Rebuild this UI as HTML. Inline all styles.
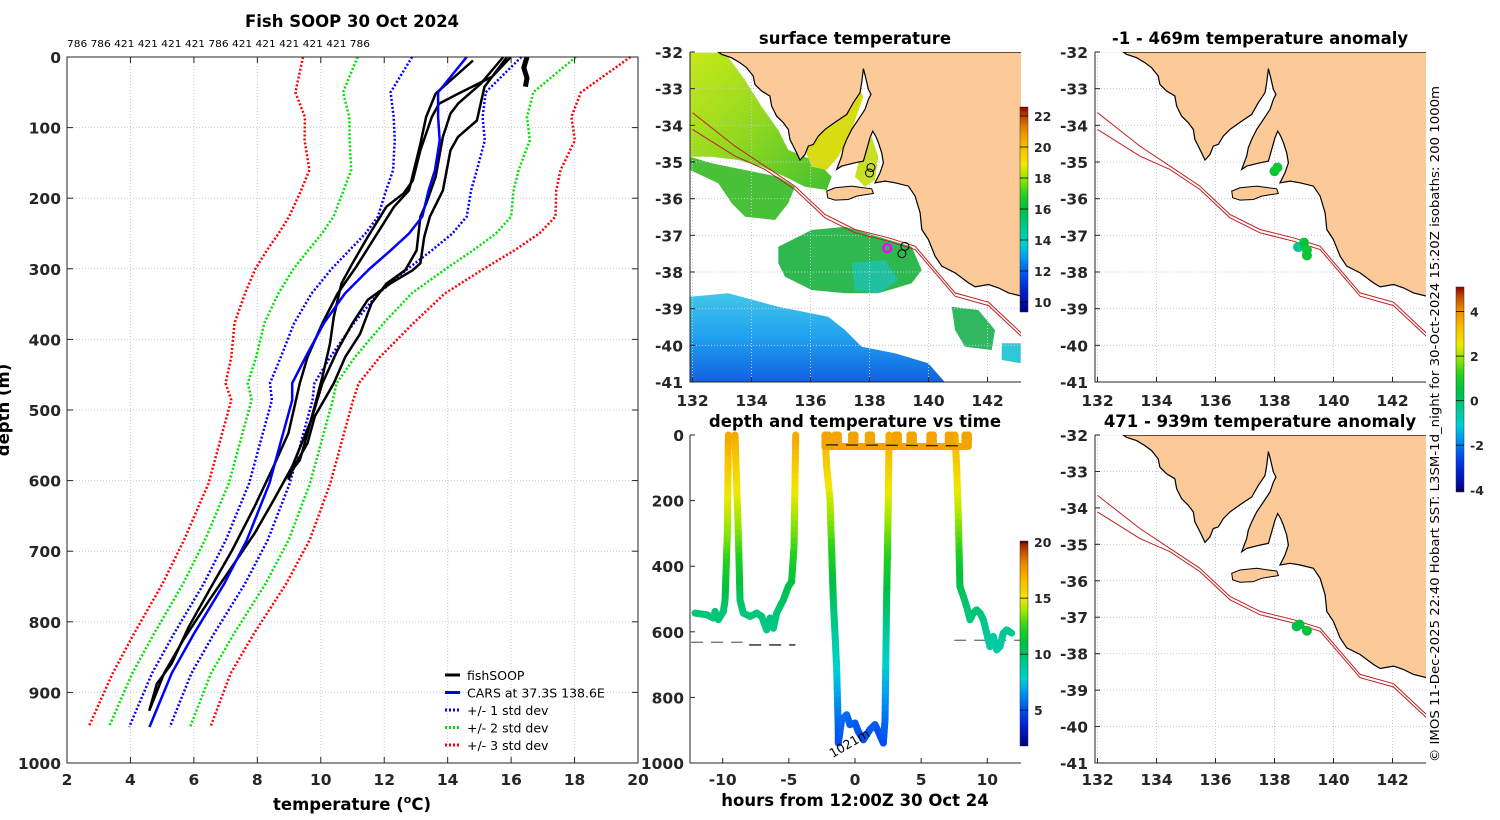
<!DOCTYPE html>
<html><head><meta charset="utf-8"><title>Fish SOOP 30 Oct 2024</title>
<style>
html,body{margin:0;padding:0;background:#fff;}
svg{display:block;font-family:"DejaVu Sans","Liberation Sans",sans-serif;}
.tk{font-weight:bold;font-size:15.5px;fill:#262626;}
.ttl{font-weight:bold;font-size:16.5px;fill:#000;}
</style></head>
<body>
<svg id="fig" width="1500" height="820" viewBox="0 0 1500 820" xmlns="http://www.w3.org/2000/svg">
<defs>
<linearGradient id="cbar" x1="0" y1="1" x2="0" y2="0">
<stop offset="0" stop-color="#00007f"/><stop offset="0.1" stop-color="#0020d0"/><stop offset="0.18" stop-color="#0050f0"/><stop offset="0.27" stop-color="#00a0f0"/><stop offset="0.33" stop-color="#00d0d0"/><stop offset="0.41" stop-color="#00c890"/><stop offset="0.5" stop-color="#00c040"/><stop offset="0.57" stop-color="#20d020"/><stop offset="0.66" stop-color="#a0e800"/><stop offset="0.72" stop-color="#f0e800"/><stop offset="0.8" stop-color="#f8c000"/><stop offset="0.88" stop-color="#f09000"/><stop offset="0.95" stop-color="#c05000"/><stop offset="1" stop-color="#900000"/>
</linearGradient>
<linearGradient id="nwg" x1="0" y1="0" x2="1" y2="1">
<stop offset="0" stop-color="#c8e818"/><stop offset="0.5" stop-color="#90d820"/><stop offset="1" stop-color="#40c030"/>
</linearGradient>
<linearGradient id="blg" x1="0" y1="0" x2="0" y2="1">
<stop offset="0" stop-color="#40c8e8"/><stop offset="0.5" stop-color="#20a0f0"/><stop offset="1" stop-color="#1060e0"/>
</linearGradient>
</defs>
<g id="root"></g>
</svg>
<script>
// ===== Left chart data: CARS climatology =====
const carsDepth = [0,50,85,118,160,189,226,250,274,300,335,377,425,462,486,604,684,746,817,873,949];
const carsMean  = [14.6,13.7,13.7,13.75,13.6,13.4,13.2,12.78,12.2,11.54,10.76,10.1,9.52,9.1,9.1,8.38,7.67,6.96,6.0,5.3,4.6];
const carsStd   = [1.72,1.5,1.4,1.42,1.32,1.34,1.4,1.37,1.3,1.2,1.05,0.94,0.78,0.7,0.64,0.64,0.66,0.65,0.63,0.62,0.64];
// fishSOOP profiles
const p1T = [14.8,13.62,13.32,13.14,12.96,12.78,12.31,11.71,11.12,10.53,10.05,9.58,9.34,8.98,8.51,7.91,7.2,6.49,5.84,5.3,4.83,4.59];
const p1D = [5,52,85,123,156,189,212,255,297,335,377,425,462,533,580,637,699,755,807,859,888,926];
const p2T = [15.87,15.16,14.92,14.33,14.09,13.85,13.44,13.26,13.14,12.9,12.19,11.48,11.0,10.53,10.05,9.7,9.1,8.51,7.91,7.2,6.49,5.66,5.06,4.59];
const p2D = [0,42,90,113,132,189,226,255,292,302,321,344,377,415,462,514,580,628,675,722,769,826,873,926];
const p3T = [15.75,15.04,14.33,14.09,13.85,13.62,13.32,13.14,13.02,12.66,12.07,11.6,11.24,10.77,10.41,9.81,9.58,9.16,8.98];
const p3D = [0,38,66,80,113,170,208,226,274,302,321,349,392,425,462,509,547,580,599];
const p4T = [15.99,15.4,14.33,13.73,13.5,13.14,12.9,12.61,12.07,11.48,11.0,10.65,10.41,10.29,10.05,9.58,9.34,8.86];
const p4D = [0,28,52,66,85,132,175,193,212,255,292,321,368,406,453,533,571,599];
const p5T = [16.5,16.4,16.5,16.45];
const p5D = [0,15,30,42];
const xTicks = [2,4,6,8,10,12,14,16,18,20];
const yTicks = [0,100,200,300,400,500,600,700,800,900,1000];
const bottomDepthLabels = ["786","786","421","421","421","421","786","421","421","421","421","421","786"];

// ===== Time plot data =====
const segAH = [-12.09,-11.21,-10.7,-10.58,-10.33,-9.95,-9.82,-9.65,-9.57];
const segAD = [543,548,558,538,563,538,503,299,0];
const segAT = [9.8,9.8,9.7,9.8,9.7,9.8,10.3,13.5,17.2];
const segBH = [-9.07,-8.82,-8.69,-8.44,-7.93,-7.43,-7.05,-6.68,-6.42,-6.17,-5.92,-5.42,-5.04,-4.79,-4.61,-4.48];
const segBD = [0,299,503,543,553,543,553,594,558,589,543,503,462,447,340,0];
const segBT = [17.2,13.5,10.3,9.8,9.8,9.8,9.7,9.4,9.7,9.4,9.8,10.2,10.7,10.9,12.5,17.2];
const segCH = [-2.27,-2.14,-1.89,-1.64,-1.39,-1.26,-1.26,-1.01,-0.63,-0.38,0,0.25,0.63,1.13,1.51,1.76,2.14,2.27,2.39,2.52,2.57];
const segCD = [0,96,198,503,706,909,939,868,853,883,878,904,929,898,883,904,939,868,503,198,0];
const segCT = [17.2,16,14.5,10.3,8,5.3,5.0,5.6,5.8,5.4,5.5,5.2,5.0,5.3,5.4,5.2,5.0,5.6,10.3,14.5,17.2];
const segEH = [7.56,7.68,7.81,7.93,8.19,8.44,8.69,8.94,9.19,9.45,9.7,9.95,10.2,10.45,10.71,10.96,11.21,11.46,11.84];
const segED = [0,96,249,462,492,523,563,543,533,543,563,604,645,614,655,645,604,594,604];
const segET = [17.2,16,14,10.7,10.3,10,9.6,9.8,9.9,9.8,9.5,9.2,8.8,9.0,8.7,8.8,9.2,9.3,9.2];
const toothHours = [-2.14,-1.39,-0.13,1.13,3.15,4.28,5.79,7.18,8.44];
const surfaceDepth = 35;
const surfaceTemp = 17.3;
const bottomH1 = [-12.4,-8.5]; const bottomD1 = 632;
const bottomH2 = [-8.0,-4.5]; const bottomD2 = 640;
const bottomH3 = [-2.2,8.4]; const bottomD3 = 30;
const bottomH4 = [7.5,12.5]; const bottomD4 = 626;
const hourTicks = [-10,-5,0,5,10];
const tDepthTicks = [0,200,400,600,800,1000];

// ===== Maps data =====
const latTicks = [-32,-33,-34,-35,-36,-37,-38,-39,-40,-41];
const lonTicks = [132,134,136,138,140,142];
const anomLonTop = [138.0,138.1,138.8,139.0,139.1,139.1];
const anomLatTop = [-35.25,-35.15,-37.32,-37.2,-37.4,-37.55];
const anomValTop = [0.7,0.8,-0.3,0.6,0.8,0.7];
const anomLonBot = [138.75,138.85,139.1];
const anomLatBot = [-37.25,-37.2,-37.37];
const anomValBot = [0.3,0.5,0.6];
const obsLon = [138.05,138.0,139.2,139.1];
const obsLat = [-35.15,-35.3,-37.3,-37.5];
const shipLon = 138.6, shipLat = -37.35;

const NS="http://www.w3.org/2000/svg";
const root=document.getElementById('root');
function mk(tag,attrs,parent){const e=document.createElementNS(NS,tag);for(const k in attrs)e.setAttribute(k,attrs[k]);(parent||root).appendChild(e);return e;}
function txt(s,attrs,parent){const e=mk('text',attrs,parent);e.textContent=s;return e;}

const cstops=[[0,[0,0,127]],[0.1,[0,32,208]],[0.18,[0,80,240]],[0.27,[0,160,240]],[0.33,[0,208,208]],[0.41,[0,200,144]],[0.5,[0,192,64]],[0.57,[32,208,32]],[0.66,[160,232,0]],[0.72,[240,232,0]],[0.8,[248,192,0]],[0.88,[240,144,0]],[0.95,[192,80,0]],[1,[144,0,0]]];
function cmap(t){t=Math.max(0,Math.min(1,t));for(let i=1;i<cstops.length;i++){if(t<=cstops[i][0]){const a=cstops[i-1],b=cstops[i];const f=(t-a[0])/(b[0]-a[0]);const c=a[1].map((v,j)=>Math.round(v+(b[1][j]-v)*f));return `rgb(${c[0]},${c[1]},${c[2]})`;}}return 'rgb(144,0,0)';}

// ================= LEFT CHART =================
const L={x0:67,x1:638,y0:57,y1:763};
const xT=t=>L.x0+(t-2)/18*(L.x1-L.x0);
const yD=d=>L.y0+d/1000*(L.y1-L.y0);
let el;
xTicks.forEach(t=>{el=mk('line',{x1:xT(t),x2:xT(t),y1:L.y0,y2:L.y1,stroke:'#c4c8e0','stroke-dasharray':'1 2','stroke-width':1});

});
yTicks.forEach(d=>{el=mk('line',{x1:L.x0,x2:L.x1,y1:yD(d),y2:yD(d),stroke:'#c4c8e0','stroke-dasharray':'1 2','stroke-width':1});

});
function pathFrom(xs,ys){return xs.map((x,i)=>(i?'L':'M')+x.toFixed(1)+' '+ys[i].toFixed(1)).join(' ');}
const stdCols=['#0000ff','#00e000','#ff0000'];
[1,2,3].forEach(k=>{[-1,1].forEach(sg=>{
 el=mk('path',{d:pathFrom(carsMean.map((m,i)=>xT(m+sg*k*carsStd[i])),carsDepth.map(yD)),fill:'none',stroke:stdCols[k-1],'stroke-width':2.5,'stroke-dasharray':'2 2'});
 
 
});});
[[p1T,p1D],[p2T,p2D],[p3T,p3D],[p4T,p4D]].forEach(p=>{
 el=mk('path',{d:pathFrom(p[0].map(xT),p[1].map(yD)),fill:'none',stroke:'#000','stroke-width':2.5,'stroke-linejoin':'round'});
 
 
});
el=mk('path',{d:pathFrom(p5T.map(xT),p5D.map(yD)),fill:'none',stroke:'#000','stroke-width':5});


el=mk('path',{d:pathFrom(carsMean.map(xT),carsDepth.map(yD)),fill:'none',stroke:'#0000ff','stroke-width':2.5});


el=mk('rect',{x:L.x0,y:L.y0,width:L.x1-L.x0,height:L.y1-L.y0,fill:'none',stroke:'#262626','stroke-width':1});


xTicks.forEach(t=>{mk('line',{x1:xT(t),x2:xT(t),y1:L.y1,y2:L.y1-6,stroke:'#262626'});mk('line',{x1:xT(t),x2:xT(t),y1:L.y0,y2:L.y0+6,stroke:'#262626'});
 el=txt(String(t),{x:xT(t),y:785,'text-anchor':'middle',class:'tk'});
 
 });
yTicks.forEach(d=>{mk('line',{x1:L.x0,x2:L.x0+6,y1:yD(d),y2:yD(d),stroke:'#262626'});mk('line',{x1:L.x1,x2:L.x1-6,y1:yD(d),y2:yD(d),stroke:'#262626'});
 el=txt(String(d),{x:61,y:yD(d)+6,'text-anchor':'end',class:'tk'});
 
 });
el=txt(bottomDepthLabels.join(' '),{x:67,y:47,'font-size':'10',fill:'#000',textLength:303,lengthAdjust:'spacingAndGlyphs'});


const legItems=[['fishSOOP','#000',null],['CARS at 37.3S 138.6E','#0000ff',null],['+/- 1 std dev','#0000ff','2 2'],['+/- 2 std dev','#00e000','2 2'],['+/- 3 std dev','#ff0000','2 2']];
legItems.forEach((it,i)=>{const y=675+i*17.5;
 const a={x1:445,x2:460,y1:y,y2:y,stroke:it[1],'stroke-width':3};if(it[2])a['stroke-dasharray']=it[2];
 el=mk('line',a);
 
 
 el=txt(it[0],{x:467,y:y+5,'font-size':'12.5',fill:'#000'});
 
 });
</script>
<script>
// ================= TIME PLOT =================
const T={x0:690,x1:1021,y0:435,y1:763};
const xH=h=>855+h*13.23;
const yTD=d=>T.y0+d/1000*(T.y1-T.y0);
const tmin=1.8,tmax=20.1;
function tc(v){return cmap((v-tmin)/(tmax-tmin));}
function drawSeg(H,D,Tm){
 for(let i=0;i<H.length-1;i++){const n=Math.max(1,Math.ceil(Math.abs(yTD(D[i+1])-yTD(D[i]))/6));
  for(let j=0;j<n;j++){const f0=j/n,f1=(j+1)/n;
   const h0=H[i]+(H[i+1]-H[i])*f0,h1=H[i]+(H[i+1]-H[i])*f1,d0=D[i]+(D[i+1]-D[i])*f0,d1=D[i]+(D[i+1]-D[i])*f1,t=Tm[i]+(Tm[i+1]-Tm[i])*(f0+f1)/2;
   el=mk('line',{x1:xH(h0),x2:xH(h1),y1:yTD(d0),y2:yTD(d1),stroke:tc(t),'stroke-width':7,'stroke-linecap':'round'});
   
   }}}
[[bottomH1,bottomD1,'#777'],[bottomH2,bottomD2,'#222'],[bottomH3,bottomD3,'#222'],[bottomH4,bottomD4,'#777']].forEach(b=>{
 el=mk('line',{x1:xH(b[0][0]),x2:xH(b[0][1]),y1:yTD(b[1]),y2:yTD(b[1]),stroke:b[2],'stroke-width':1.3,'stroke-dasharray':'12 8'});
 
 });
drawSeg(segAH,segAD,segAT);drawSeg(segBH,segBD,segBT);drawSeg(segCH,segCD,segCT);drawSeg(segEH,segED,segET);
const sH=[],sD=[],sT=[];
toothHours.forEach(h=>{sH.push(h-0.13,h-0.13,h+0.13,h+0.13);sD.push(surfaceDepth,0,0,surfaceDepth);sT.push(surfaceTemp,surfaceTemp,surfaceTemp,surfaceTemp);});
drawSeg(sH,sD,sT);
el=mk('line',{x1:xH(bottomH3[0]),x2:xH(bottomH3[1]),y1:yTD(bottomD3),y2:yTD(bottomD3)+1,stroke:'#222','stroke-width':1.3,'stroke-dasharray':'12 8'});


el=txt('1021m',{x:0,y:0,'font-size':'12.5',fill:'#000',transform:`translate(${xH(-1.7)},${yTD(985)}) rotate(-30)`});


el=mk('path',{d:`M${T.x0} ${T.y0} V${T.y1} H${T.x1}`,fill:'none',stroke:'#262626'});


hourTicks.forEach(h=>{mk('line',{x1:xH(h),x2:xH(h),y1:T.y1,y2:T.y1-5,stroke:'#262626'});
 el=txt(String(h),{x:xH(h),y:785,'text-anchor':'middle',class:'tk'});
 
 });
tDepthTicks.forEach(d=>{mk('line',{x1:T.x0,x2:T.x0+5,y1:yTD(d),y2:yTD(d),stroke:'#262626'});
 el=txt(String(d),{x:684,y:yTD(d)+6,'text-anchor':'end',class:'tk'});
 
 });
el=mk('rect',{x:1020,y:541,width:8,height:205,fill:'url(#cbar)',stroke:'#333','stroke-width':0.5});


[20,15,10,5].forEach(v=>{const y=746-(v-tmin)/(tmax-tmin)*205;mk('line',{x1:1020,x2:1028,y1:y,y2:y,stroke:'#000','stroke-width':0.8});
 el=txt(String(v),{x:1034,y:y+5,'font-size':'12.5','font-weight':'bold',fill:'#262626'});
 
 });

// ================= MAPS =================
const coastZ=[[190,68],[200,75],[230,85],[255,100],[275,115],[295,140],[300,165],[320,185],[345,200],[350,230],[365,260],[385,280],[400,300],[405,330],[415,350],[425,370],[435,392],[450,375],[460,350],[475,345],[490,320],[510,300],[545,275],[575,255],[595,220],[615,190],[620,160],[625,118],[632,145],[640,180],[648,195],[640,210],[630,240],[610,270],[590,300],[575,330],[565,355],[560,380],[545,420],[560,410],[600,400],[625,395],[635,360],[645,325],[653,305],[662,320],[670,340],[680,370],[685,400],[675,430],[660,460],[690,455],[720,460],[760,470],[780,500],[795,550],[800,600],[820,630],[840,680],[860,710],[900,730],[940,760],[960,772],[1000,765],[1030,775],[1060,790],[1100,800],[1100,68]];
const kiZ=[[515,485],[540,475],[590,470],[625,475],[650,478],[655,492],[630,496],[605,500],[580,510],[540,512],[518,505]];
const iso1Z=[[113,250],[240,350],[330,410],[420,470],[510,555],[600,600],[700,625],[780,650],[900,790],[1000,818],[1100,912]];
const iso2Z=[[113,300],[240,380],[330,420],[420,480],[510,565],[600,610],[700,635],[780,660],[900,800],[1000,828],[1100,922]];
const zLL=p=>[132+(p[0]-113)/88.4,-32-(p[1]-68)/109.9];
function makeMap(x0,y0,y1,name){
 const x1=x0+331;
 const X=lon=>x0+2.5+(lon-132)*29.5, Y=lat=>y0+(-32-lat)*(y1-y0)/9;
 const g=mk('g',{});
 
 
 const clip=mk('clipPath',{id:'clip'+name},g);mk('rect',{x:x0,y:y0,width:331,height:y1-y0},clip);
 const inner=mk('g',{'clip-path':`url(#clip${name})`},g);
 return {g,inner,X,Y,x0,x1,y0,y1};
}
function poly(m,pts,attrs,nm){const d='M'+pts.map(p=>{const q=zLL(p);return m.X(q[0]).toFixed(1)+' '+m.Y(q[1]).toFixed(1);}).join(' L')+(attrs.fill!=='none'?' Z':'');
 el=mk('path',Object.assign({d},attrs),m.inner);
 
 return el;}
function finishMap(m,lonLabelY){
 lonTicks.forEach(l=>{el=mk('line',{x1:m.X(l),x2:m.X(l),y1:m.y0,y2:m.y1,stroke:'#c4c8e0','stroke-dasharray':'1 2'},m.inner);
  
  });
 latTicks.forEach(l=>{el=mk('line',{x1:m.x0,x2:m.x1,y1:m.Y(l),y2:m.Y(l),stroke:'#c4c8e0','stroke-dasharray':'1 2'},m.inner);
  
  });
 poly(m,coastZ,{fill:'#fbca98',stroke:'#000','stroke-width':1.2},'land');
 poly(m,kiZ,{fill:'#fbca98',stroke:'#000','stroke-width':1},'kangaroo-island');
 poly(m,iso1Z,{fill:'none',stroke:'#c02020','stroke-width':1},'isobath-200m');
 poly(m,iso2Z,{fill:'none',stroke:'#c02020','stroke-width':1},'isobath-1000m');
 el=mk('path',{d:`M${m.x0} ${m.y0} V${m.y1} H${m.x1}`,fill:'none',stroke:'#262626'},m.g);
 
 
 latTicks.forEach(l=>{mk('line',{x1:m.x0,x2:m.x0+5,y1:m.Y(l),y2:m.Y(l),stroke:'#262626'},m.g);
  el=txt(String(l),{x:m.x0-7,y:m.Y(l)+6,'text-anchor':'end',class:'tk'},m.g);
  
  });
 lonTicks.forEach(l=>{mk('line',{x1:m.X(l),x2:m.X(l),y1:m.y1,y2:m.y1-5,stroke:'#262626'},m.g);
  el=txt(String(l),{x:m.X(l),y:lonLabelY,'text-anchor':'middle',class:'tk'},m.g);
  
  });
}
const sst=makeMap(690,52,382,'sst-map');
const sz=pts=>pts.map(p=>[645+p[0]/3,30+p[1]/3]);
function sstPoly(pts,fill,nm){el=mk('path',{d:'M'+sz(pts).map(p=>p[0].toFixed(1)+' '+p[1].toFixed(1)).join(' L')+' Z',fill},sst.inner);
 
 }
sstPoly([[135,68],[240,68],[300,150],[350,230],[400,300],[430,360],[480,380],[520,400],[560,440],[545,480],[480,470],[420,440],[350,410],[280,390],[200,380],[135,380]],'url(#nwg)','sst-nw-warm');
sstPoly([[135,380],[200,400],[300,420],[400,440],[450,470],[430,520],[390,570],[300,560],[260,520],[220,460],[135,420]],'#48c038','sst-shelf-green');
sstPoly([[480,360],[540,290],[600,230],[640,170],[655,200],[620,300],[580,380],[545,420],[500,410]],'#d8dc10','sst-spencer-gulf');
sstPoly([[640,400],[680,320],[700,380],[690,450],[660,470],[630,440]],'#c8e020','sst-gulf-st-vincent');
sstPoly([[400,650],[500,600],[600,590],[700,620],[800,650],[830,720],[800,760],[700,790],[600,790],[500,780],[420,740],[400,700]],'#30b850','sst-central-green');
sstPoly([[620,700],[720,690],[760,750],[700,790],[630,780]],'#20c0a0','sst-central-teal');
sstPoly([[920,830],[1000,840],[1050,900],[1040,960],[960,950],[930,900]],'#30b860','sst-se-green');
sstPoly([[135,800],[250,790],[400,830],[550,860],[600,900],[650,950],[750,970],[850,1000],[900,1057],[135,1057]],'url(#blg)','sst-south-cool');
sstPoly([[1070,940],[1127,940],[1127,1000],[1070,990]],'#30c8d8','sst-east-cool');
finishMap(sst,406);
obsLon.forEach((l,i)=>{el=mk('circle',{cx:sst.X(l),cy:sst.Y(obsLat[i]),r:4,fill:'none',stroke:'#000','stroke-width':1},sst.g);
 
 });
el=mk('circle',{cx:sst.X(shipLon),cy:sst.Y(shipLat),r:4,fill:'none',stroke:'#ff00ff','stroke-width':2.5},sst.g);


el=mk('rect',{x:1020,y:107,width:8,height:205,fill:'url(#cbar)',stroke:'#333','stroke-width':0.5});


[22,20,18,16,14,12,10].forEach(v=>{const y=302-(v-10)*15.5;mk('line',{x1:1020,x2:1028,y1:y,y2:y,stroke:'#000','stroke-width':0.8});
 el=txt(String(v),{x:1034,y:y+5,'font-size':'12.5','font-weight':'bold',fill:'#262626'});
 
 });
const amin=-4.1,amax=5.1;
const ac=v=>cmap((v-amin)/(amax-amin));
const m1=makeMap(1095,52,382,'anomaly-map-shallow');
finishMap(m1,406);
anomLonTop.forEach((l,i)=>{el=mk('circle',{cx:m1.X(l),cy:m1.Y(anomLatTop[i]),r:5,fill:ac(anomValTop[i])},m1.g);
 
 });
const m2=makeMap(1095,435,763,'anomaly-map-deep');
finishMap(m2,785);
anomLonBot.forEach((l,i)=>{el=mk('circle',{cx:m2.X(l),cy:m2.Y(anomLatBot[i]),r:5,fill:ac(anomValBot[i])},m2.g);
 
 });
el=mk('rect',{x:1456,y:287,width:8,height:205,fill:'url(#cbar)',stroke:'#333','stroke-width':0.5});


[4,2,0,-2,-4].forEach(v=>{const y=492-(v-amin)/(amax-amin)*205;mk('line',{x1:1456,x2:1464,y1:y,y2:y,stroke:'#000','stroke-width':0.8});
 el=txt(String(v),{x:1470,y:y+5,'font-size':'12.5','font-weight':'bold',fill:'#262626'});
 
 });
</script>
<div style="position:absolute;left:0;top:0;width:1500px;height:820px;pointer-events:none">
<svg width="1500" height="820">
<text x="352" y="27" text-anchor="middle" class="ttl">Fish SOOP 30 Oct 2024</text>
<text x="352" y="810" text-anchor="middle" class="ttl">temperature (<tspan font-size="11" dy="-7">o</tspan><tspan dy="7">C)</tspan></text>
<text transform="translate(9,410) rotate(-90)" text-anchor="middle" class="ttl">depth (m)</text>
<text x="855" y="44" text-anchor="middle" class="ttl">surface temperature</text>
<text x="855" y="427" text-anchor="middle" class="ttl">depth and temperature vs time</text>
<text x="855" y="806" text-anchor="middle" class="ttl">hours from 12:00Z 30 Oct 24</text>
<text x="1260" y="44" text-anchor="middle" class="ttl">-1 - 469m temperature anomaly</text>
<text x="1260" y="427" text-anchor="middle" class="ttl">471 - 939m temperature anomaly</text>
<text transform="translate(1439,762) rotate(-90)" font-size="12.5" fill="#000" textLength="676" lengthAdjust="spacingAndGlyphs">© IMOS 11-Dec-2025 22:40 Hobart SST: L3SM-1d_night for 30-Oct-2024 15:20Z isobaths: 200  1000m</text>
</svg></div>
</body></html>
